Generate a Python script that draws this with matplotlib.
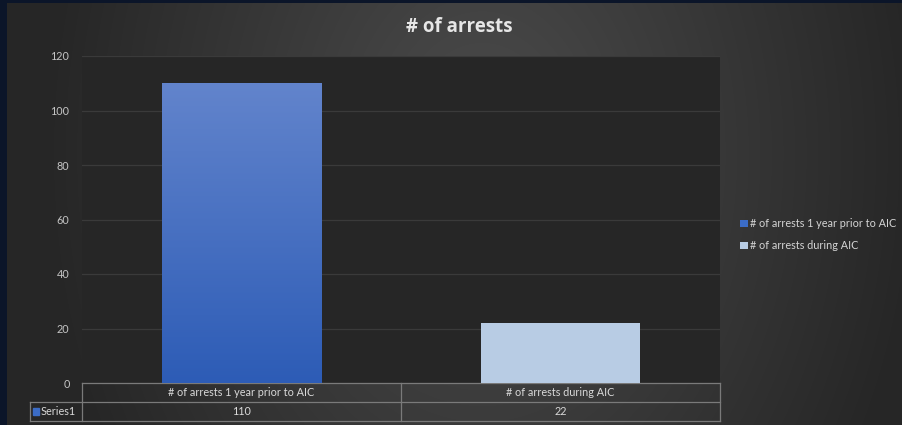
import numpy as np
import matplotlib
matplotlib.use("Agg")
import matplotlib.pyplot as plt
from matplotlib.colors import LinearSegmentedColormap, to_rgb
from matplotlib.patches import Patch, Rectangle
from matplotlib.lines import Line2D

# chart data
title = "# of arrests"
categories = ["# of arrests 1 year prior to AIC", "# of arrests during AIC"]
values = [110, 22]
series_name = "Series1"
yticks = [0, 20, 40, 60, 80, 100, 120]

plt.rcParams['font.family'] = ['Lato', 'DejaVu Sans']

W, H = 902, 425
fig = plt.figure(figsize=(W / 100, H / 100), dpi=100, facecolor='#0b1529')

# background panel, lighter in the middle, darker at the sides
bg = fig.add_axes([7 / W, 0, (W - 7) / W, (H - 3) / H])
bg.set_axis_off()
yy, xx = np.mgrid[0:H - 3, 0:W - 7]
d = np.sqrt(((xx - 475) / 440.0) ** 2 + ((yy - 150) / 600.0) ** 2)
d = np.clip(d, 0, 1)
c_in = np.array(to_rgb('#4c4c4c'))
c_out = np.array(to_rgb('#262626'))
img = c_in[None, None, :] * (1 - d[..., None]) + c_out[None, None, :] * d[..., None]
bg.imshow(img, aspect='auto', interpolation='bilinear')

# plot area
left, right = 82 / W, 720 / W
bottom, top = 1 - 383 / H, 1 - 56 / H
ax = fig.add_axes([left, bottom, right - left, top - bottom])
ax.set_facecolor('#262626')
for s in ax.spines.values():
    s.set_visible(False)

x = np.arange(len(categories))
bar_colors = ['#3b6cc6', '#b8cce4']
bars = ax.bar(x, values, width=0.5, color=bar_colors, zorder=3)

# blue gradient on the first bar
grad = LinearSegmentedColormap.from_list('g', ['#2d5cb6', '#6284cc'])
b = bars[0]
im = ax.imshow(np.linspace(0, 1, 256).reshape(-1, 1), cmap=grad, origin='lower',
               extent=[b.get_x(), b.get_x() + b.get_width(), 0, b.get_height()],
               aspect='auto', zorder=4)
im.set_clip_path(b)

ax.set_xlim(-0.5, len(categories) - 0.5)
ax.set_ylim(yticks[0], yticks[-1])
ax.set_yticks(yticks)
ax.set_xticks([])
ax.yaxis.grid(True, color='#3a3a3a', lw=0.9, zorder=0)
ax.tick_params(axis='y', length=0, pad=9, labelcolor='#c4c4c4', labelsize=7.8)

# data table under the axis
n = len(categories)
rh = 19.0 / 327
lab_w = 52.0 / 638
lc = '#7a7a7a'
def hline(x0, x1, y):
    ax.add_line(Line2D([x0, x1], [y, y], transform=ax.transAxes, color=lc, lw=0.9, clip_on=False))
def vline(xv, y0, y1):
    ax.add_line(Line2D([xv, xv], [y0, y1], transform=ax.transAxes, color=lc, lw=0.9, clip_on=False))

hline(0, 1, 0)
hline(-lab_w, 1, -rh)
hline(-lab_w, 1, -2 * rh)
vline(-lab_w, -2 * rh, -rh)
for i in range(n + 1):
    vline(i / n, -2 * rh, 0)
for i, (cat, v) in enumerate(zip(categories, values)):
    xc = (i + 0.5) / n
    ax.text(xc, -rh / 2, cat, transform=ax.transAxes, ha='center', va='center',
            fontsize=7.8, color='#d9d9d9')
    ax.text(xc, -1.5 * rh, str(v), transform=ax.transAxes, ha='center', va='center',
            fontsize=7.8, color='#d9d9d9')
ax.add_patch(Rectangle((-lab_w + 0.004, -1.5 * rh - 0.012), 0.0095, 0.024,
                       transform=ax.transAxes, color=bar_colors[0], clip_on=False))
ax.text(-lab_w + 0.016, -1.5 * rh, series_name, transform=ax.transAxes, ha='left',
        va='center', fontsize=7.8, color='#d9d9d9')

# title
fig.text(459 / W, 1 - 27 / H, title, ha='center', va='center', fontsize=13.5,
         fontweight='bold', color='#e6e6e6', family=['Open Sans', 'DejaVu Sans'])

# legend
handles = [Patch(facecolor=c, edgecolor='none') for c in bar_colors]
fig.legend(handles, categories, loc='upper left', bbox_to_anchor=(736 / W, 1 - 214 / H),
           frameon=False, fontsize=7.8, labelcolor='#d4d4d4', handlelength=0.7,
           handleheight=0.7, handletextpad=0.2, labelspacing=1.0, borderaxespad=0)

fig.savefig('out.png', dpi=100, facecolor=fig.get_facecolor())
